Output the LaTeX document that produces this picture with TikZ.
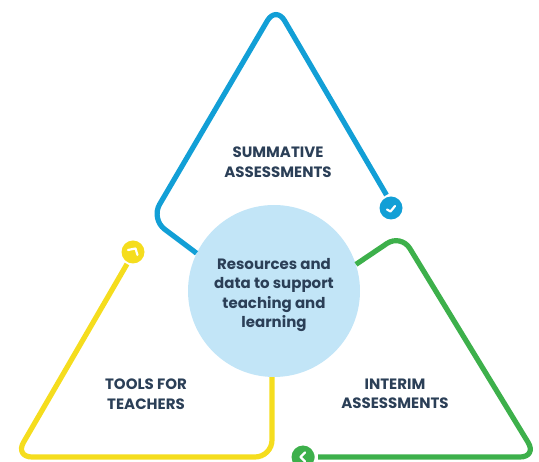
\documentclass[tikz,border=0pt]{standalone}
\usepackage{fontspec}
\setmainfont{Poppins}
\definecolor{navy}{HTML}{2B3F57}
\definecolor{hubblue}{HTML}{C2E5F7}
\definecolor{cblue}{HTML}{129FD6}
\definecolor{cyellow}{HTML}{F5DD1E}
\definecolor{cgreen}{HTML}{3DB04B}
\tikzset{
  track/.style={line width=5.2pt,rounded corners=17pt,line cap=butt},
  badge/.style={circle,minimum size=23pt,inner sep=0pt,fill=#1},
  chev/.style={white,line width=2.2pt,line cap=round,line join=round},
  lbl/.style={font=\bfseries\fontsize{#1}{19.5}\selectfont,text=navy,align=center,inner sep=0pt},
}
\begin{document}
\begin{tikzpicture}[x=1pt,y=-1pt]
\useasboundingbox (0,0) rectangle (539,462);
\node[circle,minimum size=172pt,inner sep=0pt,fill=hubblue] (hub) at (274,291) {};
\node[badge=cblue] (b1) at (391,208) {};
\node[badge=cyellow] (b2) at (133,252) {};
\node[badge=cgreen] (b3) at (303,457) {};
\coordinate (a1) at (151,219);
\coordinate (a2) at (276,6);
\coordinate (a3) at (386.5,195);
\coordinate (y1) at (127,264);
\coordinate (y2) at (15,457);
\coordinate (y3) at (272,457);
\coordinate (g1) at (401,234);
\coordinate (g2) at (537,457);
\draw[track,cblue] (hub.154) -- (a1) -- (a2) -- (a3);
\draw[track,cyellow] (y1) -- (y2) -- (y3) -- (hub.south -| y3);
\draw[track,cgreen] (hub.18) -- (g1) -- (g2) -- (b3.east) ;
\fill[white] (b3.east) ++(0,-4) rectangle ++(3,8);
\draw[chev] (387,209.5) -- (390.5,211.5) -- (395,206);
\draw[chev] (128,250) -- (135.5,248.5) -- (137.5,255);
\draw[chev] (305,452.5) -- (300.5,457) -- (305,461.5);
\node[lbl=15] (t0) at (274,295) {Resources and\\data to support\\teaching and\\learning};
\node[lbl=15] (t1) at (278,162) {SUMMATIVE\\ASSESSMENTS};
\node[lbl=15] (t2) at (146,394) {TOOLS FOR\\TEACHERS};
\node[lbl=15] (t3) at (395,394) {INTERIM\\ASSESSMENTS};
\end{tikzpicture}
\end{document}
